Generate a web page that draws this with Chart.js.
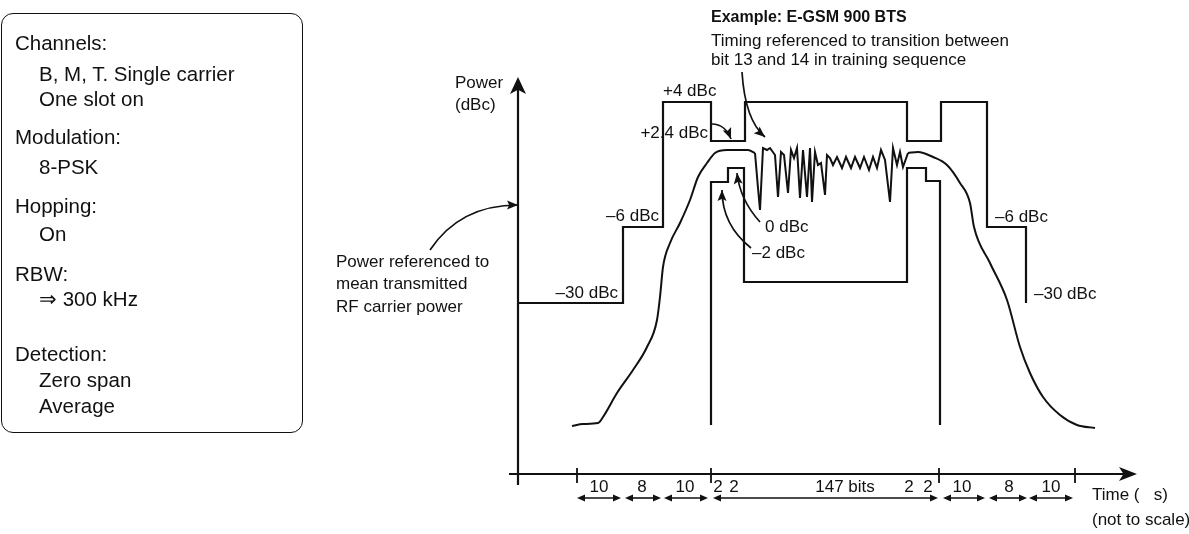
<!DOCTYPE html>
<html>
<head>
<meta charset="utf-8">
<script src="https://cdn.jsdelivr.net/npm/chart.js@4.4.1/dist/chart.umd.min.js"></script>
<style>
    html, body { margin: 0; padding: 0; background: #fff; }
    #wrap { position: relative; width: 1189px; height: 534px; }
    #settings {
        position: absolute; left: 1px; top: 13px; width: 302px; height: 420px;
        box-sizing: border-box; border: 1.5px solid #111; border-radius: 12px;
        font-family: "Liberation Sans", Arial, sans-serif;
        font-size: 20.5px; color: #111;
    }
    #settings div { position: absolute; white-space: nowrap; line-height: 20px; }
    .h { left: 13px; }
    .s { left: 37px; }
</style>
</head>
<body>
<div id="wrap">
    <canvas id="burstChart"></canvas>
    <div id="settings">
        <div class="h" style="top:19px">Channels:</div>
        <div class="s" style="top:50px">B, M, T. Single carrier</div>
        <div class="s" style="top:75px">One slot on</div>
        <div class="h" style="top:113px">Modulation:</div>
        <div class="s" style="top:143px">8-PSK</div>
        <div class="h" style="top:182px">Hopping:</div>
        <div class="s" style="top:210px">On</div>
        <div class="h" style="top:250px">RBW:</div>
        <div class="s" style="top:275px">⇒ 300 kHz</div>
        <div class="h" style="top:330px">Detection:</div>
        <div class="s" style="top:356px">Zero span</div>
        <div class="s" style="top:382px">Average</div>
    </div>
</div>
<script>
// Diagram units: t = time position (not to scale), lvl = height above the time axis

// upper limit of the power/time mask
const upperMaskT   = [0, 105, 105, 145, 145, 193, 193, 227, 227, 389, 389, 423, 423, 469, 469, 508, 508];
const upperMaskLvl = [171, 171, 247, 247, 372, 372, 333, 333, 372, 372, 333, 333, 372, 372, 247, 247, 171];

// lower limit of the mask (useful part of the burst)
const lowerMaskT   = [193, 193, 210, 210, 226, 226, 389, 389, 408, 408, 422, 422];
const lowerMaskLvl = [49, 292, 292, 306, 306, 192, 192, 306, 306, 293, 293, 49];

// burst power: ramp up, modulated part, ramp down
const rampUpT   = [54, 65, 80, 85, 99, 115, 129, 139, 142, 145, 152, 162, 172, 180, 189, 197, 209, 230, 237];
const rampUpLvl = [48, 50, 51, 57, 81, 104, 127, 154, 177, 207, 231, 251, 274, 297, 311, 321, 324, 324, 321];

const noiseT   = [237, 240, 242, 245, 249, 252, 257, 260, 263, 266, 270, 273, 276, 279, 282, 285, 289, 292, 294, 297,
                  300, 303, 307, 309, 312, 315, 319, 324, 328, 333, 337, 342, 346, 351, 355, 359, 363, 367, 372, 375,
                  379, 382, 385, 390];
const noiseLvl = [321, 286, 264, 326, 324, 326, 319, 277, 322, 319, 281, 324, 316, 326, 276, 324, 277, 326, 272, 322,
                  309, 311, 279, 319, 316, 309, 317, 306, 317, 306, 317, 306, 317, 304, 317, 306, 324, 314, 272, 326,
                  309, 322, 307, 321];

const rampDownT   = [390, 400, 415, 429, 442, 452, 456, 472, 489, 502, 512, 525, 542, 559, 577];
const rampDownLvl = [321, 322, 317, 309, 291, 271, 247, 211, 174, 127, 101, 77, 59, 49, 46];

// time axis ticks and dimension spans below it
const timeTicks = [59, 193, 421, 557];
const dimStart  = [59, 107, 146, 195, 425, 471, 511];
const dimEnd    = [103, 143, 190, 420, 467, 509, 555];
const spanLabels = ['10', '8', '10', '2', '2', '147 bits', '2', '2', '10', '8', '10'];
const spanLabelT = [81, 124, 167, 200, 216, 327, 391, 410, 444, 491, 533];

// text annotations
const notes = [
    { text: 'Power', t: -63, lvl: 391 },
    { text: '(dBc)', t: -63, lvl: 369 },
    { text: 'Power referenced to', t: -182, lvl: 212 },
    { text: 'mean transmitted', t: -182, lvl: 190 },
    { text: 'RF carrier power', t: -182, lvl: 167 },
    { text: '–30 dBc', t: 100, lvl: 181, align: 'right' },
    { text: '–6 dBc', t: 141, lvl: 258, align: 'right' },
    { text: '+4 dBc', t: 145, lvl: 383 },
    { text: '+2.4 dBc', t: 190, lvl: 341, align: 'right' },
    { text: '0 dBc', t: 247, lvl: 247 },
    { text: '–2 dBc', t: 234, lvl: 221 },
    { text: '–6 dBc', t: 477, lvl: 257 },
    { text: '–30 dBc', t: 516, lvl: 180 },
    { text: 'Example: E-GSM 900 BTS', t: 193, lvl: 456, bold: true },
    { text: 'Timing referenced to transition between', t: 193, lvl: 433 },
    { text: 'bit 13 and 14 in training sequence', t: 193, lvl: 414 },
    { text: 'Time (   s)', t: 574, lvl: -21 },
    { text: '(not to scale)', t: 574, lvl: -46 }
];

// curved pointers: start, control, end (arrow at end)
const pointers = [
    [-88, 224, -58, 269, 0, 269],
    [194, 350, 207, 350, 213, 335],
    [224, 402, 227, 354, 247, 337],
    [242, 252, 222, 274, 219, 301],
    [233, 226, 204, 249, 204, 284]
];

const INK = '#111';
const FONT = '"Liberation Sans", Arial, sans-serif';

function pts(ts, ls) {
    return ts.map((t, i) => ({ x: t, y: ls[i] }));
}

function lineSet(data, width, smooth) {
    return {
        data: data,
        showLine: true,
        borderColor: INK,
        borderWidth: width,
        pointRadius: 0,
        fill: false,
        clip: false,
        tension: 0,
        cubicInterpolationMode: smooth ? 'monotone' : 'default'
    };
}

function arrowHead(ctx, x, y, ang, len, half, notch) {
    const c = Math.cos(ang), s = Math.sin(ang);
    ctx.beginPath();
    ctx.moveTo(x, y);
    ctx.lineTo(x - len * c + half * s, y - len * s - half * c);
    ctx.lineTo(x - len * notch * c, y - len * notch * s);
    ctx.lineTo(x - len * c - half * s, y - len * s + half * c);
    ctx.closePath();
    ctx.fill();
}

const sketchPlugin = {
    id: 'sketch',
    afterDatasetsDraw(chart) {
        const { ctx, scales: { x, y } } = chart;
        const px = v => x.getPixelForValue(v);
        const py = v => y.getPixelForValue(v);
        ctx.save();
        ctx.fillStyle = INK;
        ctx.strokeStyle = INK;

        // axis arrows
        arrowHead(ctx, px(0), py(397), -Math.PI / 2, 17, 8, 0.75);
        arrowHead(ctx, px(619), py(0), 0, 18, 7, 0.75);

        // dimension arrows
        dimStart.forEach((t0, i) => {
            arrowHead(ctx, px(t0), py(-24), Math.PI, 8, 3.5, 1);
            arrowHead(ctx, px(dimEnd[i]), py(-24), 0, 8, 3.5, 1);
        });

        // curved pointers
        ctx.lineWidth = 1.7;
        pointers.forEach(p => {
            ctx.beginPath();
            ctx.moveTo(px(p[0]), py(p[1]));
            ctx.quadraticCurveTo(px(p[2]), py(p[3]), px(p[4]), py(p[5]));
            ctx.stroke();
            const ang = Math.atan2(py(p[5]) - py(p[3]), px(p[4]) - px(p[2]));
            arrowHead(ctx, px(p[4]), py(p[5]), ang, 11, 4.5, 0.8);
        });

        // text
        ctx.textBaseline = 'middle';
        notes.forEach(n => {
            ctx.font = n.bold ? 'bold 16px ' + FONT : '17px ' + FONT;
            ctx.textAlign = n.align || 'left';
            ctx.fillText(n.text, px(n.t), py(n.lvl));
        });
        ctx.textAlign = 'center';
        ctx.font = '17px ' + FONT;
        spanLabels.forEach((s, i) => ctx.fillText(s, px(spanLabelT[i]), py(-13)));
        ctx.restore();
    }
};

const datasets = [
    lineSet(pts(upperMaskT, upperMaskLvl), 2.2),
    lineSet(pts(lowerMaskT, lowerMaskLvl), 2.2),
    lineSet(pts(rampUpT, rampUpLvl), 2, true),
    lineSet(pts(noiseT, noiseLvl), 2),
    lineSet(pts(rampDownT, rampDownLvl), 2, true),
    lineSet([{ x: 0, y: -11 }, { x: 0, y: 390 }], 2.2),
    lineSet([{ x: -9, y: 0 }, { x: 610, y: 0 }], 2.2)
];
timeTicks.forEach(t => datasets.push(lineSet([{ x: t, y: 6 }, { x: t, y: -9 }], 1.8)));
dimStart.forEach((t0, i) => datasets.push(lineSet([{ x: t0 + 3, y: -24 }, { x: dimEnd[i] - 3, y: -24 }], 1.6)));

new Chart(document.getElementById('burstChart').getContext('2d'), {
    type: 'scatter',
    data: { datasets: datasets },
    options: {
        responsive: true,
        maintainAspectRatio: false,
        animation: false,
        events: [],
        layout: { padding: 0 },
        plugins: { legend: { display: false }, tooltip: { enabled: false } },
        scales: {
            x: { type: 'linear', display: false, min: -518, max: 671 },
            y: { type: 'linear', display: false, min: -60, max: 474 }
        }
    },
    plugins: [sketchPlugin]
});
</script>
</body>
</html>
